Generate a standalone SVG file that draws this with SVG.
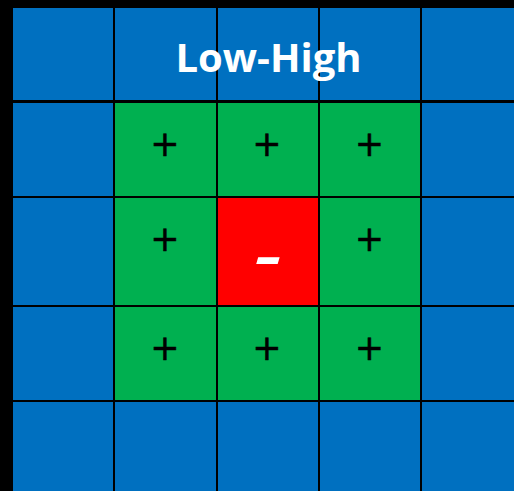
<svg xmlns="http://www.w3.org/2000/svg" width="514" height="491" viewBox="0 0 514 491">
<style>
.b{fill:#0070C0}
.g{fill:#00B050}
.r{fill:#FF0000}
.p{font-family:"DejaVu Sans",sans-serif;font-size:35px;fill:#000;stroke:#000;stroke-width:0.5px;text-anchor:middle}
.t{font-family:"Open Sans","Liberation Sans",sans-serif;font-weight:bold;font-size:40px;fill:#fff;text-anchor:middle}
.m{font-family:"Liberation Sans",Arial,sans-serif;font-weight:bold;font-style:italic;font-size:58px;fill:#fff;text-anchor:middle}
</style>
<rect x="0" y="0" width="514" height="491" fill="#000"/>
<g id="row1">
<rect id="c11" class="b" x="13" y="8" width="100" height="92"/>
<rect id="c12" class="b" x="115" y="8" width="101" height="92"/>
<rect id="c13" class="b" x="218" y="8" width="100" height="92"/>
<rect id="c14" class="b" x="320" y="8" width="100" height="92"/>
<rect id="c15" class="b" x="422" y="8" width="92" height="92"/>
</g>
<g id="row2">
<rect id="c21" class="b" x="13" y="103" width="100" height="93"/>
<rect id="c22" class="g" x="115" y="103" width="101" height="93"/>
<rect id="c23" class="g" x="218" y="103" width="100" height="93"/>
<rect id="c24" class="g" x="320" y="103" width="100" height="93"/>
<rect id="c25" class="b" x="422" y="103" width="92" height="93"/>
</g>
<g id="row3">
<rect id="c31" class="b" x="13" y="198" width="100" height="107"/>
<rect id="c32" class="g" x="115" y="198" width="101" height="107"/>
<rect id="c33" class="r" x="218" y="198" width="100" height="107"/>
<rect id="c34" class="g" x="320" y="198" width="100" height="107"/>
<rect id="c35" class="b" x="422" y="198" width="92" height="107"/>
</g>
<g id="row4">
<rect id="c41" class="b" x="13" y="307" width="100" height="93"/>
<rect id="c42" class="g" x="115" y="307" width="101" height="93"/>
<rect id="c43" class="g" x="218" y="307" width="100" height="93"/>
<rect id="c44" class="g" x="320" y="307" width="100" height="93"/>
<rect id="c45" class="b" x="422" y="307" width="92" height="93"/>
</g>
<g id="row5">
<rect id="c51" class="b" x="13" y="402" width="100" height="89"/>
<rect id="c52" class="b" x="115" y="402" width="101" height="89"/>
<rect id="c53" class="b" x="218" y="402" width="100" height="89"/>
<rect id="c54" class="b" x="320" y="402" width="100" height="89"/>
<rect id="c55" class="b" x="422" y="402" width="92" height="89"/>
</g>
<g id="labels">
<text class="t" x="268.5" y="72">Low-High</text>
<text class="p" x="165" y="155.5">+</text>
<text class="p" x="267" y="155.5">+</text>
<text class="p" x="369.5" y="155.5">+</text>
<text class="p" x="165" y="250.5">+</text>
<text class="p" x="369.5" y="250.5">+</text>
<text class="p" x="165" y="360">+</text>
<text class="p" x="267" y="360">+</text>
<text class="p" x="369.5" y="360">+</text>
<text class="m" transform="translate(268,275.5) scale(1.45,1)" x="0" y="0">-</text>
</g>
</svg>
